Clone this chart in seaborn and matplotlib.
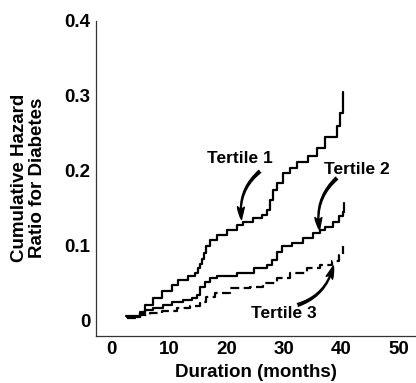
import pandas as pd
import matplotlib
matplotlib.use("Agg")
import matplotlib.pyplot as plt
import seaborn as sns
from matplotlib.ticker import FuncFormatter

# cumulative hazard step curves
t1_time = [2.5, 5.0, 5.8, 7.2, 8.7, 10.5, 11.6, 13.3, 14.5, 15.0, 15.4, 15.7, 16.1, 16.5, 17.1,
           18.3, 20.0, 21.8, 22.9, 24.6, 26.1, 27.0, 27.6, 28.1, 28.7, 29.9, 31.0, 32.2, 34.2,
           35.7, 37.2, 39.2, 39.8, 40.3]
t1_haz = [0.006, 0.012, 0.021, 0.030, 0.039, 0.048, 0.054, 0.059, 0.064, 0.070, 0.076, 0.082,
          0.090, 0.099, 0.108, 0.114, 0.121, 0.128, 0.132, 0.137, 0.141, 0.148, 0.161, 0.174,
          0.183, 0.197, 0.204, 0.212, 0.220, 0.230, 0.245, 0.260, 0.277, 0.305]

t2_time = [2.6, 4.9, 5.8, 7.2, 8.9, 10.5, 12.4, 13.9, 14.8, 15.4, 16.3, 17.1, 18.3, 21.8, 24.7,
           27.0, 27.9, 28.7, 29.6, 31.4, 33.4, 35.1, 36.3, 37.2, 38.6, 39.5, 40.2, 40.4]
t2_haz = [0.005, 0.010, 0.014, 0.017, 0.021, 0.025, 0.028, 0.030, 0.034, 0.045, 0.052, 0.057,
          0.059, 0.063, 0.070, 0.074, 0.081, 0.092, 0.099, 0.103, 0.110, 0.117, 0.121, 0.125,
          0.132, 0.139, 0.145, 0.157]

t3_time = [2.6, 4.9, 6.7, 8.7, 11.3, 13.6, 15.4, 16.5, 18.0, 20.6, 24.1, 26.4, 28.7, 31.1, 34.0,
           36.3, 38.3, 39.5, 40.3]
t3_haz = [0.004, 0.008, 0.010, 0.013, 0.017, 0.020, 0.025, 0.032, 0.037, 0.043, 0.045, 0.050,
          0.057, 0.063, 0.070, 0.074, 0.079, 0.088, 0.099]

labels = ["Tertile 1", "Tertile 2", "Tertile 3"]
label_pos = [(22.4, 0.216), (42.7, 0.202), (30.0, 0.010)]
arrow_start = [(25.8, 0.199), (39.2, 0.190), (32.4, 0.021)]
arrow_tip = [(22.6, 0.135), (36.2, 0.121), (38.6, 0.073)]

x_ticks = [0, 10, 20, 30, 40, 50]
y_ticks = [0, 0.1, 0.2, 0.3, 0.4]

sns.set_style("white")
plt.rcParams["font.family"] = ["Liberation Sans", "DejaVu Sans"]
plt.rcParams["font.weight"] = "bold"
plt.rcParams["text.color"] = "black"
plt.rcParams["axes.labelcolor"] = "black"
plt.rcParams["xtick.color"] = "black"
plt.rcParams["ytick.color"] = "black"

fig = plt.figure(figsize=(4.16, 3.83), dpi=100)
ax = fig.add_axes([0.231, 0.1235, 0.769, 0.8225])

curves = [(t1_time, t1_haz, "-"), (t2_time, t2_haz, "-"), (t3_time, t3_haz, (0, (4, 2)))]
for t, h, ls in curves:
    df = pd.DataFrame({"time": t, "haz": h})
    sns.lineplot(data=df, x="time", y="haz", ax=ax, color="black", lw=1.6,
                 drawstyle="steps-post", linestyle=ls, estimator=None, sort=False)

ax.set_xlim(-2.73, 53.0)
ax.set_ylim(-0.02, 0.4)
ax.set_xticks(x_ticks)
ax.set_yticks(y_ticks)
ax.yaxis.set_major_formatter(FuncFormatter(lambda v, p: "0" if v == 0 else f"{v:.1f}"))
ax.tick_params(axis="both", direction="out", length=2.5, width=0.8, color="#333333",
               labelsize=13.5, pad=1.5)
for lab in ax.get_xticklabels() + ax.get_yticklabels():
    lab.set_fontweight("bold")
sns.despine(ax=ax)
for s in ["left", "bottom"]:
    ax.spines[s].set_linewidth(0.9)
    ax.spines[s].set_color("#333333")

ax.set_xlabel("Duration (months)", fontsize=13.5, fontweight="bold", labelpad=4)
ax.set_ylabel("Cumulative Hazard\nRatio for Diabetes", fontsize=13.5, fontweight="bold",
              labelpad=13, linespacing=1.08)

arrow = "fancy,head_length=0.9,head_width=0.5,tail_width=0.2"
for lab, pos, st, tip in zip(labels, label_pos, arrow_start, arrow_tip):
    ax.text(pos[0], pos[1], lab, ha="center", va="center", fontsize=12.5,
            fontweight="bold", color="black")
    ax.annotate("", xy=tip, xytext=st,
                arrowprops=dict(arrowstyle=arrow, color="black", shrinkA=0, shrinkB=0,
                                mutation_scale=10, connectionstyle="arc3,rad=0.28"))

fig.savefig("out.png", dpi=100)
